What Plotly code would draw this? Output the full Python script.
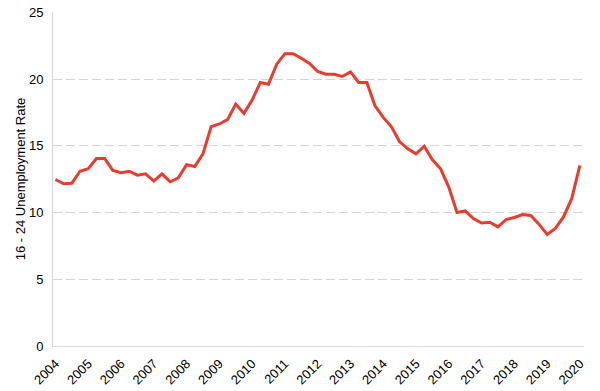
import plotly.graph_objects as go

years = [str(y) for y in range(2004, 2021)]
rate = [
    12.48, 12.16, 12.2, 13.1,
    13.28, 14.05, 14.05, 13.16,
    12.99, 13.1, 12.8, 12.9,
    12.36, 12.9, 12.31, 12.6,
    13.58, 13.45, 14.4, 16.44,
    16.64, 16.96, 18.13, 17.43,
    18.43, 19.75, 19.62, 21.12,
    21.91, 21.91, 21.57, 21.17,
    20.57, 20.37, 20.37, 20.2,
    20.54, 19.75, 19.75, 18.0,
    17.13, 16.42, 15.3, 14.78,
    14.4, 14.97, 13.95, 13.28,
    11.91, 10.0, 10.12, 9.55,
    9.22, 9.28, 8.93, 9.48,
    9.63, 9.85, 9.78, 9.13,
    8.36, 8.81, 9.67, 11.04,
    13.53,
]
y_ticks = [0, 5, 10, 15, 20, 25]

x = list(range(len(rate)))
tickvals = [i * 4 for i in range(len(years))]

fig = go.Figure()
fig.add_trace(go.Scatter(x=x, y=rate, mode="lines",
                         line=dict(color="#EC3A2C", width=3)))

fig.update_layout(
    width=600, height=391,
    margin=dict(l=53, r=16, t=12, b=45),
    paper_bgcolor="white", plot_bgcolor="white",
    showlegend=False,
    font=dict(family="Liberation Sans, Arial, sans-serif", size=13, color="#000"),
)
fig.update_xaxes(
    range=[-0.3, 64.5], automargin=False,
    tickvals=tickvals, ticktext=years, tickangle=-45,
    showgrid=False, zeroline=False,
    showline=True, linecolor="#d9d9d9", linewidth=1,
    ticks="", tickfont=dict(size=13), ticklabelstandoff=4,
)
fig.update_yaxes(
    range=[0, 25.03], tickvals=y_ticks, automargin=False,
    showgrid=True, gridcolor="#d4d4d4", gridwidth=1, griddash="9px,4px",
    zeroline=False, ticklabeloverflow="allow",
    showline=True, linecolor="#d9d9d9", linewidth=1,
    ticks="", tickfont=dict(size=13), ticklabelstandoff=6,
    title=dict(text="16 - 24 Unemployment Rate", font=dict(size=13), standoff=0),
)

fig.write_html("out.html",
               config={"displayModeBar": False},
               post_script="document.body.style.margin='0px';")
